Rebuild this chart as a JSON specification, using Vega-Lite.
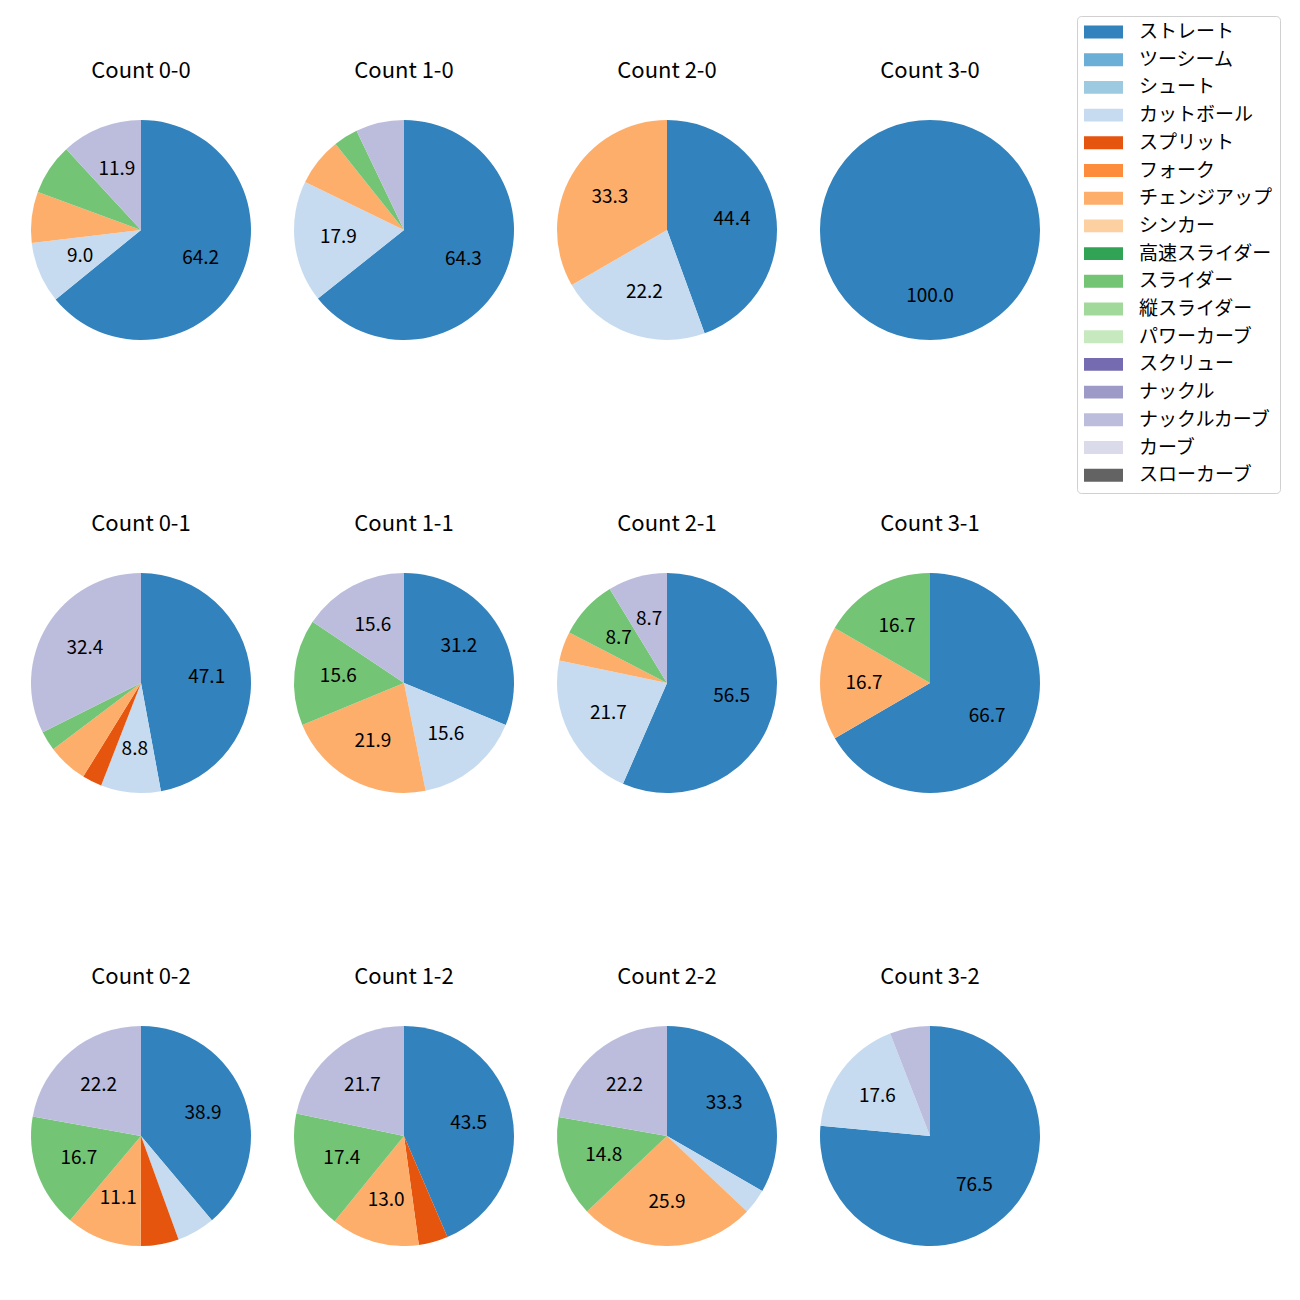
{
  "$schema": "https://vega.github.io/schema/vega-lite/v6.json",
  "padding": {"left": 31, "top": 15, "right": 0, "bottom": 0},
  "data": {"values": [
    {"count": "Count 0-0", "type": "ストレート", "pct": 64.2},
    {"count": "Count 0-0", "type": "カットボール", "pct": 9.0},
    {"count": "Count 0-0", "type": "チェンジアップ", "pct": 7.5},
    {"count": "Count 0-0", "type": "スライダー", "pct": 7.5},
    {"count": "Count 0-0", "type": "ナックルカーブ", "pct": 11.9},
    {"count": "Count 1-0", "type": "ストレート", "pct": 64.3},
    {"count": "Count 1-0", "type": "カットボール", "pct": 17.9},
    {"count": "Count 1-0", "type": "チェンジアップ", "pct": 7.1},
    {"count": "Count 1-0", "type": "スライダー", "pct": 3.6},
    {"count": "Count 1-0", "type": "ナックルカーブ", "pct": 7.1},
    {"count": "Count 2-0", "type": "ストレート", "pct": 44.4},
    {"count": "Count 2-0", "type": "カットボール", "pct": 22.2},
    {"count": "Count 2-0", "type": "チェンジアップ", "pct": 33.3},
    {"count": "Count 3-0", "type": "ストレート", "pct": 100.0},
    {"count": "Count 0-1", "type": "ストレート", "pct": 47.1},
    {"count": "Count 0-1", "type": "カットボール", "pct": 8.8},
    {"count": "Count 0-1", "type": "スプリット", "pct": 2.9},
    {"count": "Count 0-1", "type": "チェンジアップ", "pct": 5.9},
    {"count": "Count 0-1", "type": "スライダー", "pct": 2.9},
    {"count": "Count 0-1", "type": "ナックルカーブ", "pct": 32.4},
    {"count": "Count 1-1", "type": "ストレート", "pct": 31.2},
    {"count": "Count 1-1", "type": "カットボール", "pct": 15.6},
    {"count": "Count 1-1", "type": "チェンジアップ", "pct": 21.9},
    {"count": "Count 1-1", "type": "スライダー", "pct": 15.6},
    {"count": "Count 1-1", "type": "ナックルカーブ", "pct": 15.6},
    {"count": "Count 2-1", "type": "ストレート", "pct": 56.5},
    {"count": "Count 2-1", "type": "カットボール", "pct": 21.7},
    {"count": "Count 2-1", "type": "チェンジアップ", "pct": 4.3},
    {"count": "Count 2-1", "type": "スライダー", "pct": 8.7},
    {"count": "Count 2-1", "type": "ナックルカーブ", "pct": 8.7},
    {"count": "Count 3-1", "type": "ストレート", "pct": 66.7},
    {"count": "Count 3-1", "type": "チェンジアップ", "pct": 16.7},
    {"count": "Count 3-1", "type": "スライダー", "pct": 16.7},
    {"count": "Count 0-2", "type": "ストレート", "pct": 38.9},
    {"count": "Count 0-2", "type": "カットボール", "pct": 5.6},
    {"count": "Count 0-2", "type": "スプリット", "pct": 5.6},
    {"count": "Count 0-2", "type": "チェンジアップ", "pct": 11.1},
    {"count": "Count 0-2", "type": "スライダー", "pct": 16.7},
    {"count": "Count 0-2", "type": "ナックルカーブ", "pct": 22.2},
    {"count": "Count 1-2", "type": "ストレート", "pct": 43.5},
    {"count": "Count 1-2", "type": "スプリット", "pct": 4.3},
    {"count": "Count 1-2", "type": "チェンジアップ", "pct": 13.0},
    {"count": "Count 1-2", "type": "スライダー", "pct": 17.4},
    {"count": "Count 1-2", "type": "ナックルカーブ", "pct": 21.7},
    {"count": "Count 2-2", "type": "ストレート", "pct": 33.3},
    {"count": "Count 2-2", "type": "カットボール", "pct": 3.7},
    {"count": "Count 2-2", "type": "チェンジアップ", "pct": 25.9},
    {"count": "Count 2-2", "type": "スライダー", "pct": 14.8},
    {"count": "Count 2-2", "type": "ナックルカーブ", "pct": 22.2},
    {"count": "Count 3-2", "type": "ストレート", "pct": 76.5},
    {"count": "Count 3-2", "type": "カットボール", "pct": 17.6},
    {"count": "Count 3-2", "type": "ナックルカーブ", "pct": 5.9}
  ]},
  "transform": [
    {"calculate": "indexof(['ストレート','ツーシーム','シュート','カットボール','スプリット','フォーク','チェンジアップ','シンカー','高速スライダー','スライダー','縦スライダー','パワーカーブ','スクリュー','ナックル','ナックルカーブ','カーブ','スローカーブ'], datum.type)", "as": "idx"}
  ],
  "facet": {
    "field": "count",
    "type": "nominal",
    "sort": ["Count 0-0", "Count 1-0", "Count 2-0", "Count 3-0", "Count 0-1", "Count 1-1", "Count 2-1", "Count 3-1", "Count 0-2", "Count 1-2", "Count 2-2", "Count 3-2"],
    "header": {"title": null, "labelFont": "Noto Sans CJK JP", "labelFontSize": 22, "labelColor": "black", "labelPadding": 27, "labelBaseline": "middle"}
  },
  "columns": 4,
  "spacing": {"column": 43, "row": 173},
  "spec": {
    "width": 220,
    "height": 220,
    "encoding": {
      "theta": {"field": "pct", "type": "quantitative", "stack": "normalize"},
      "order": {"field": "idx", "type": "quantitative", "sort": "ascending"}
    },
    "layer": [
      {
        "mark": {"type": "arc", "outerRadius": 110},
        "encoding": {
          "color": {
            "field": "type",
            "type": "nominal",
            "scale": {
              "domain": ["ストレート","ツーシーム","シュート","カットボール","スプリット","フォーク","チェンジアップ","シンカー","高速スライダー","スライダー","縦スライダー","パワーカーブ","スクリュー","ナックル","ナックルカーブ","カーブ","スローカーブ"],
              "range": ["#3182bd","#6baed6","#9ecae1","#c6dbef","#e6550d","#fd8d3c","#fdae6b","#fdd0a2","#31a354","#74c476","#a1d99b","#c7e9c0","#756bb1","#9e9ac8","#bcbddc","#dadaeb","#636363"]
            },
            "legend": {
              "title": null,
              "orient": "none",
              "legendX": 1046,
              "legendY": -104
            }
          }
        }
      },
      {
        "mark": {"type": "text", "radius": 66, "font": "Noto Sans CJK JP", "fontSize": 19, "color": "black"},
        "encoding": {
          "detail": {"field": "type", "type": "nominal"},
          "text": {"condition": {"test": "datum.pct >= 8", "field": "pct", "type": "quantitative", "format": ".1f"}, "value": ""}
        }
      }
    ]
  },
  "config": {
    "view": {"stroke": null},
    "legend": {
      "labelFont": "Noto Sans CJK JP",
      "labelFontSize": 19,
      "labelColor": "black",
      "labelOffset": 16,
      "symbolType": "M-1,-0.33H1V0.33H-1Z",
      "symbolSize": 1521,
      "symbolStrokeWidth": 0,
      "symbolOpacity": 1,
      "clipHeight": 18,
      "rowPadding": 8.7,
      "padding": 7,
      "strokeColor": "#d0d0d0",
      "cornerRadius": 4,
      "fillColor": "white",
      "labelLimit": 300
    }
  }
}
